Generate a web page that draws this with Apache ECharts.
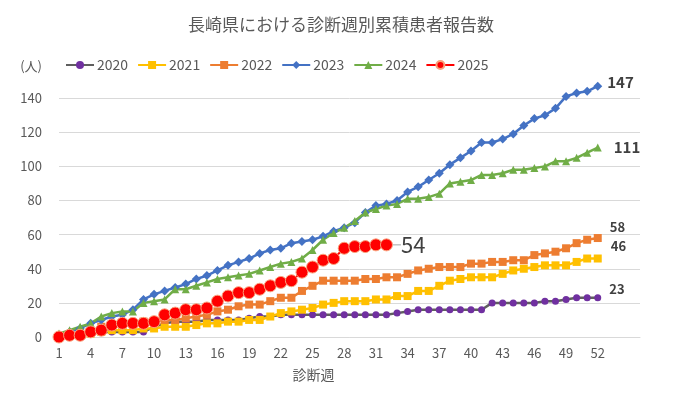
<!DOCTYPE html>
<html>
<head>
<meta charset="utf-8">
<script src="https://cdn.jsdelivr.net/npm/echarts@6/dist/echarts.min.js"></script>
<style>
  html, body { margin: 0; padding: 0; background: #fff; }
  #chart { width: 682px; height: 396px; }
</style>
</head>
<body>
<div id="chart"></div>
<script>
// 診断週
const weeks = [1, 2, 3, 4, 5, 6, 7, 8, 9, 10, 11, 12, 13, 14, 15, 16, 17, 18, 19, 20, 21, 22, 23, 24, 25, 26,
  27, 28, 29, 30, 31, 32, 33, 34, 35, 36, 37, 38, 39, 40, 41, 42, 43, 44, 45, 46, 47, 48, 49, 50, 51, 52]
const seriesNames = ['2020', '2021', '2022', '2023', '2024', '2025']

// 累積患者報告数
const cases2020 = [0, 1, 1, 2, 3, 3, 3, 3, 3, 6, 8, 9, 9, 9, 10, 10, 10, 10, 11, 12, 12, 13, 13, 13, 13, 13,
  13, 13, 13, 13, 13, 13, 14, 15, 16, 16, 16, 16, 16, 16, 16, 20, 20, 20, 20, 20, 21, 21, 22, 23, 23, 23]
const cases2021 = [0, 1, 1, 2, 3, 4, 4, 4, 5, 5, 6, 6, 6, 7, 8, 8, 9, 9, 10, 10, 12, 14, 15, 16, 17, 19,
  20, 21, 21, 21, 22, 22, 24, 24, 27, 27, 30, 33, 34, 35, 35, 35, 37, 39, 40, 41, 42, 42, 42, 44, 46, 46]
const cases2022 = [0, 1, 2, 3, 6, 6, 7, 8, 9, 9, 10, 10, 11, 12, 13, 15, 16, 18, 19, 19, 21, 23, 23, 27, 30, 33,
  33, 33, 33, 34, 34, 35, 35, 37, 39, 40, 41, 41, 41, 43, 43, 44, 44, 45, 45, 48, 49, 50, 52, 55, 57, 58]
const cases2023 = [1, 3, 5, 8, 10, 12, 13, 16, 22, 25, 27, 29, 31, 34, 36, 39, 42, 44, 46, 49, 51, 52, 55, 56, 57, 59,
  62, 64, 67, 73, 77, 78, 80, 85, 88, 92, 96, 101, 105, 109, 114, 114, 116, 119, 124, 128, 130, 134, 141, 143, 144, 147]
const cases2024 = [2, 4, 6, 8, 12, 14, 15, 15, 20, 21, 22, 28, 28, 30, 32, 34, 35, 36, 37, 39, 41, 43, 44, 46, 51, 57,
  61, 64, 68, 73, 75, 77, 78, 81, 81, 82, 84, 90, 91, 92, 95, 95, 96, 98, 98, 99, 100, 103, 103, 105, 108, 111]
const cases2025 = [0, 1, 1, 3, 4, 7, 8, 8, 8, 9, 13, 14, 16, 16, 17, 21, 24, 26, 26, 28, 30, 32, 33, 38, 41, 45,
  46, 52, 53, 53, 54, 54]

// 縦軸目盛
const yTicks = [0, 20, 40, 60, 80, 100, 120, 140]

const FONT = '"Noto Sans CJK JP", "Noto Sans", sans-serif'
const TEXT = '#595959'

const chart = echarts.init(document.getElementById('chart'))

// 最終週のみラベルを付ける
const withEndLabel = (values, label) => values.map((v, i) =>
  i === values.length - 1 ? { value: v, label: Object.assign({ show: true, position: 'right', fontFamily: FONT }, label) } : v)

const makeSeries = (name, values, opt) => Object.assign({
  name,
  type: 'line',
  data: values,
  showAllSymbol: true,
  animation: false,
  label: { show: false },
  emphasis: { disabled: true }
}, opt)

const option = {
  animation: false,
  title: {
    text: '長崎県における診断週別累積患者報告数',
    left: 'center',
    top: 11,
    textStyle: { fontFamily: FONT, fontSize: 17, fontWeight: 'normal', color: TEXT }
  },
  legend: {
    data: seriesNames,
    left: 60,
    top: 53,
    itemWidth: 28,
    itemHeight: 10,
    itemGap: 9,
    textStyle: { fontFamily: FONT, fontSize: 14, color: TEXT, padding: [0, 0, 0, -2] }
  },
  grid: { left: 59, right: 42, top: 64, bottom: 59 },
  xAxis: {
    type: 'category',
    boundaryGap: false,
    data: weeks.concat(['', '', '', '']),
    name: '診断週',
    nameLocation: 'middle',
    nameGap: 31,
    nameTextStyle: { fontFamily: FONT, fontSize: 14, color: TEXT, padding: [0, 72, 0, 0] },
    axisLine: { lineStyle: { color: '#D9D9D9', width: 1 } },
    axisTick: { show: false },
    axisLabel: {
      interval: (i) => i % 3 === 0 && i < weeks.length,
      margin: 10,
      fontFamily: FONT,
      fontSize: 13,
      color: TEXT
    },
    splitLine: { show: false }
  },
  yAxis: {
    type: 'value',
    min: 0,
    max: 160,
    interval: 20,
    name: '(人)',
    nameLocation: 'end',
    nameGap: -2,
    nameTextStyle: { fontFamily: FONT, fontSize: 13, color: TEXT, align: 'right', verticalAlign: 'middle', padding: [0, 17, 0, 0] },
    axisLine: { show: false },
    axisTick: { show: false },
    axisLabel: {
      margin: 17,
      fontFamily: FONT,
      fontSize: 13,
      color: TEXT,
      showMaxLabel: false,
      formatter: (v) => yTicks.includes(v) ? String(v) : ''
    },
    splitLine: { show: true, showMaxLine: false, lineStyle: { color: '#D9D9D9', width: 1 } }
  },
  series: [
    makeSeries('2020', withEndLabel(cases2020, { distance: 8, offset: [0, -9], fontSize: 13, fontWeight: 'bold', color: '#404040' }), {
      symbol: 'circle', symbolSize: 7,
      lineStyle: { color: '#5F5F5F', width: 2.5 },
      itemStyle: { color: '#7030A0' }
    }),
    makeSeries('2021', withEndLabel(cases2021, { distance: 9, offset: [0, -12], fontSize: 13, fontWeight: 'bold', color: '#404040' }), {
      symbol: 'rect', symbolSize: 8,
      lineStyle: { color: '#FFC000', width: 2.5 },
      itemStyle: { color: '#FFC000' }
    }),
    makeSeries('2022', withEndLabel(cases2022, { distance: 8, offset: [0, -11], fontSize: 13, fontWeight: 'bold', color: '#404040' }), {
      symbol: 'rect', symbolSize: 8,
      lineStyle: { color: '#ED7D31', width: 2.5 },
      itemStyle: { color: '#ED7D31' }
    }),
    makeSeries('2023', withEndLabel(cases2023, { distance: 5, offset: [0, -4], fontSize: 15, fontWeight: 'bold', color: '#404040' }), {
      symbol: 'diamond', symbolSize: 9,
      lineStyle: { color: '#4472C4', width: 2.5 },
      itemStyle: { color: '#4472C4' }
    }),
    makeSeries('2024', withEndLabel(cases2024, { distance: 12, offset: [0, 0], fontSize: 15, fontWeight: 'bold', color: '#404040' }), {
      symbol: 'triangle', symbolSize: 8,
      lineStyle: { color: '#70AD47', width: 2.5 },
      itemStyle: { color: '#70AD47' }
    }),
    makeSeries('2025', withEndLabel(cases2025, { distance: 2, fontSize: 22, fontWeight: 'normal', color: '#404040' }), {
      symbol: 'circle', symbolSize: 12,
      lineStyle: { color: '#FF0000', width: 2 },
      itemStyle: { color: '#FF0000', borderColor: '#F8A27C', borderWidth: 1 },
      labelLayout: { dx: 6 },
      labelLine: { show: true, lineStyle: { color: '#A6A6A6', width: 1 } }
    })
  ]
}

chart.setOption(option)
</script>
</body>
</html>
